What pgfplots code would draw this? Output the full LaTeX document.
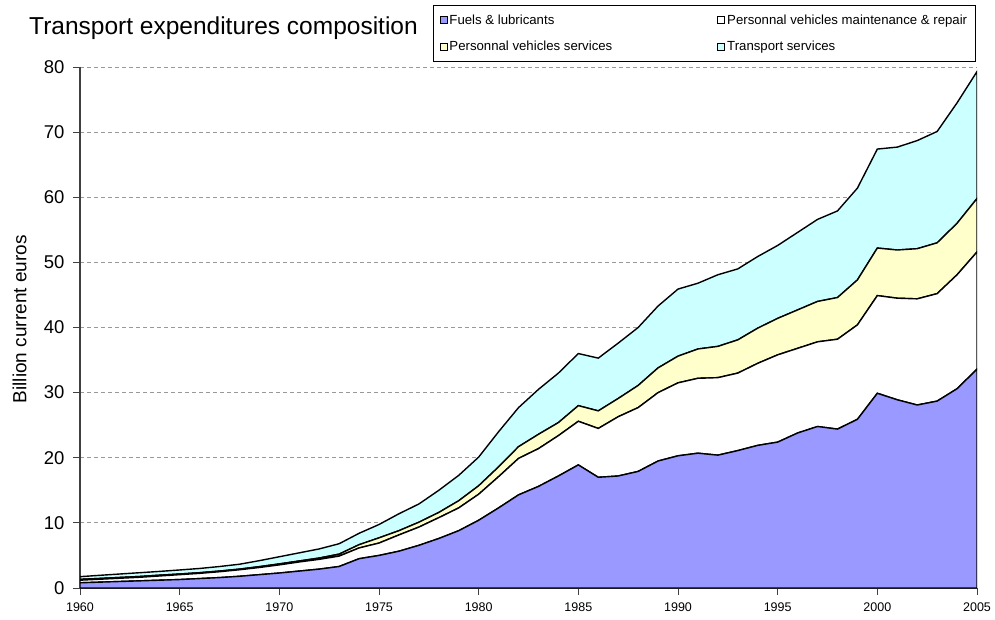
\documentclass[border=0pt]{standalone}
\usepackage{fontspec}
\setmainfont{Liberation Sans}
\usepackage{pgfplots}
\usepackage{pgfplotstable}
\pgfplotsset{compat=1.18}
\definecolor{fuelc}{HTML}{9999FF}
\definecolor{svcc}{HTML}{FFFFCC}
\definecolor{trc}{HTML}{CCFFFF}
\pgfplotstableread{
year F M S T
1960 0.8 0.4 0.13 0.41
1961 0.9 0.45 0.12 0.48
1962 1.0 0.5 0.12 0.53
1963 1.1 0.55 0.12 0.58
1964 1.2 0.65 0.12 0.58
1965 1.3 0.75 0.10 0.62
1966 1.45 0.8 0.10 0.65
1967 1.6 0.9 0.10 0.7
1968 1.8 1.0 0.10 0.75
1969 2.05 1.1 0.13 0.92
1970 2.3 1.25 0.15 1.1
1971 2.6 1.4 0.15 1.25
1972 2.9 1.5 0.2 1.4
1973 3.3 1.6 0.3 1.6
1974 4.5 1.65 0.5 1.75
1975 5.0 1.9 0.8 2.05
1976 5.65 2.5 0.65 2.6
1977 6.55 2.8 0.75 2.8
1978 7.6 3.2 0.8 3.4
1979 8.8 3.5 1.1 3.9
1980 10.4 4.0 1.3 4.4
1981 12.3 4.8 1.5 5.4
1982 14.3 5.6 1.8 6.0
1983 15.6 5.8 2.2 6.9
1984 17.2 6.2 2.0 7.6
1985 18.9 6.7 2.4 8.0
1986 17.0 7.5 2.7 8.1
1987 17.2 9.1 2.8 8.5
1988 17.9 9.8 3.4 8.9
1989 19.5 10.5 3.8 9.5
1990 20.3 11.2 4.1 10.3
1991 20.7 11.5 4.5 10.1
1992 20.4 11.9 4.8 11.0
1993 21.1 11.9 5.1 10.9
1994 21.9 12.6 5.4 11.0
1995 22.4 13.4 5.6 11.2
1996 23.8 13.0 5.9 11.9
1997 24.8 13.0 6.2 12.6
1998 24.4 13.8 6.4 13.3
1999 25.9 14.5 6.9 14.1
2000 29.9 15.0 7.3 15.2
2001 28.9 15.6 7.4 15.8
2002 28.1 16.3 7.7 16.6
2003 28.7 16.5 7.8 17.1
2004 30.6 17.5 7.9 18.5
2005 33.6 18.0 8.2 19.5
}\data
\begin{document}
\begin{tikzpicture}
\useasboundingbox (0pt,0pt) rectangle (995pt,619pt);
\node[anchor=base west, font=\fontsize{24.5}{29}\selectfont, inner sep=0pt] at (29pt,584pt) {Transport expenditures composition};
\begin{axis}[
  at={(80pt,31pt)}, anchor=south west,
  scale only axis, width=897pt, height=521pt,
  xmin=1960, xmax=2005, ymin=0, ymax=80,
  stack plots=y,
  axis x line*=bottom, axis y line*=left,
  axis line style={black!75, line width=1.3pt},
  xtick={1960,1965,...,2005},
  ytick={0,10,...,80},
  tick align=outside,
  major tick length=7pt,
  tick style={black!75, line width=1pt},
  /pgf/number format/assume math mode=true,
  /pgf/number format/1000 sep={},
  xticklabel style={font=\fontsize{12.5}{15}\selectfont, yshift=-4pt},
  yticklabel style={font=\fontsize{18.5}{22}\selectfont, xshift=-5pt},
  ymajorgrids,
  grid style={gray!80, dash pattern=on 4pt off 3pt, line width=0.8pt},
  ylabel={Billion current euros},
  every axis y label/.style={at={(axis description cs:-0.0674,0.516)}, rotate=90, anchor=center, font=\fontsize{19}{22}\selectfont},
  legend columns=2,
  legend cell align=left,
  legend image code/.code={\draw[#1, draw=black, line width=0.9pt] (0pt,-3.5pt) rectangle (7pt,3.5pt);},
  legend style={at={(axis description cs:0.3935,1.119)}, anchor=north west,
    draw=black, line width=1.2pt,
    font=\fontsize{13.2}{16}\selectfont,
    nodes={inner xsep=2pt, inner ysep=2pt},
    /tikz/every even column/.append style={column sep=103pt},
    row sep=11.7pt, inner xsep=6pt, inner ysep=7pt},
]
\addplot[fill=fuelc, draw=black, line width=1.4pt] table[x=year,y=F]{\data} \closedcycle;
\addlegendentry{Fuels \& lubricants}
\addplot[fill=white, draw=black, line width=1.4pt] table[x=year,y=M]{\data} \closedcycle;
\addlegendentry{Personnal vehicles maintenance \& repair}
\addplot[fill=svcc, draw=black, line width=1.4pt] table[x=year,y=S]{\data} \closedcycle;
\addlegendentry{Personnal vehicles services}
\addplot[fill=trc, draw=black, line width=1.4pt] table[x=year,y=T]{\data} \closedcycle;
\addlegendentry{Transport services}
\end{axis}
\end{tikzpicture}
\end{document}
